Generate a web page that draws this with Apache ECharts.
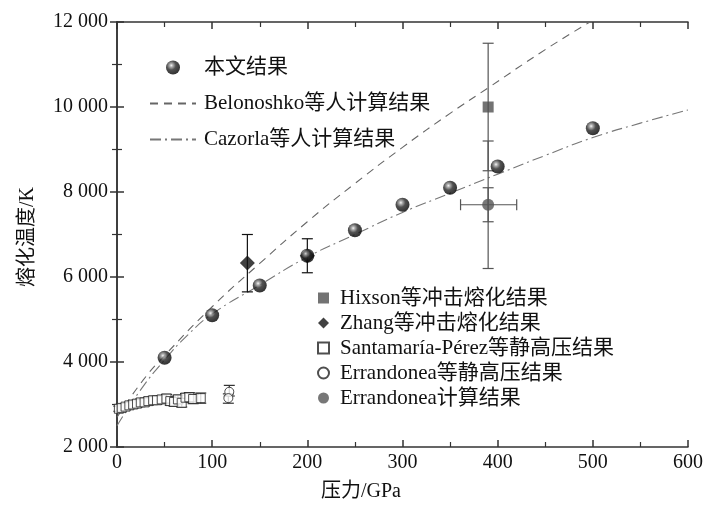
<!DOCTYPE html>
<html>
<head>
<meta charset="utf-8">
<script src="https://cdn.jsdelivr.net/npm/echarts@6/dist/echarts.min.js"></script>
<style>
    html, body { margin: 0; padding: 0; background: #fff; }
    #chart { width: 706px; height: 506px; }
</style>
</head>
<body>
<div id="chart"></div>
<script>
// 本文结果
const mainP = [50, 100, 150, 200, 250, 300, 350, 400, 500];
const mainT = [4100, 5100, 5800, 6500, 7100, 7700, 8100, 8600, 9500];

// Belonoshko (dashed) and Cazorla (dash-dot) curves
const belP = [0, 27, 50, 100, 150, 200, 250, 300, 350, 390, 450, 497];
const belT = [2700, 3560, 4150, 5300, 6320, 7300, 8200, 9050, 9850, 10450, 11350, 12000];
const cazP = [0, 25, 50, 75, 100, 150, 200, 250, 300, 350, 400, 450, 500, 550, 600];
const cazT = [2500, 3350, 4050, 4650, 5130, 5810, 6470, 7000, 7520, 7970, 8420, 8860, 9280, 9620, 9930];

// Hixson (two bars on one point)
const hixP = [390];
const hixT = [10000];
const hixLo = [6200];
const hixHi = [11500];
const hixLo2 = [8500];
const hixHi2 = [9200];

// Zhang
const zhangP = [137, 200];
const zhangT = [6330, 6500];
const zhangLo = [5650, 6100];
const zhangHi = [7000, 6900];

// Santamaría-Pérez
const santP = [2, 5, 9, 13, 17, 21, 25, 29, 33, 38, 42, 47, 52, 56, 60, 64, 68, 72, 76, 80, 88];
const santT = [2900, 2920, 2950, 2980, 3000, 3020, 3050, 3050, 3080, 3100, 3100, 3120, 3140, 3080, 3060, 3120, 3040, 3160, 3170, 3130, 3150];
const santErr = [60, 60, 70, 70, 80, 80, 80, 80, 90, 90, 90, 90, 100, 100, 100, 100, 100, 100, 110, 110, 120];

// Errandonea static
const errStP = [118, 117];
const errStT = [3300, 3150];
const errStLo = [3200, 3030];
const errStHi = [3450, 3250];

// Errandonea calc
const errCalcP = [390];
const errCalcT = [7700];
const errCalcPLo = [361];
const errCalcPHi = [420];
const errCalcTLo = [7300];
const errCalcTHi = [8100];

const xTicks = [0, 100, 200, 300, 400, 500, 600];
const yTicks = [2000, 4000, 6000, 8000, 10000, 12000];

const FONT = "'Liberation Serif', 'Noto Sans CJK SC', serif";

const zip = (a, b) => a.map((v, i) => [v, b[i]]);
const zip3 = (a, b, c) => a.map((v, i) => [v, b[i], c[i]]);

function fmtK(v) {
    if (v < 1000) return String(v);
    const s = String(v);
    return s.slice(0, s.length - 3) + ' ' + s.slice(-3);
}

// vertical error bar: [x, lo, hi]
function errY(params, api) {
    const x = api.value(0);
    const p1 = api.coord([x, api.value(1)]);
    const p2 = api.coord([x, api.value(2)]);
    const c = api.visual('color');
    const w = 5.5;
    const st = { stroke: c, lineWidth: 1.2 };
    return {
        type: 'group',
        children: [
            { type: 'line', shape: { x1: p1[0], y1: p1[1], x2: p2[0], y2: p2[1] }, style: st },
            { type: 'line', shape: { x1: p1[0] - w, y1: p1[1], x2: p1[0] + w, y2: p1[1] }, style: st },
            { type: 'line', shape: { x1: p2[0] - w, y1: p2[1], x2: p2[0] + w, y2: p2[1] }, style: st }
        ]
    };
}

// horizontal error bar: [y, lo, hi]
function errX(params, api) {
    const y = api.value(0);
    const p1 = api.coord([api.value(1), y]);
    const p2 = api.coord([api.value(2), y]);
    const c = api.visual('color');
    const w = 5.5;
    const st = { stroke: c, lineWidth: 1.2 };
    return {
        type: 'group',
        children: [
            { type: 'line', shape: { x1: p1[0], y1: p1[1], x2: p2[0], y2: p2[1] }, style: st },
            { type: 'line', shape: { x1: p1[0], y1: p1[1] - w, x2: p1[0], y2: p1[1] + w }, style: st },
            { type: 'line', shape: { x1: p2[0], y1: p2[1] - w, x2: p2[0], y2: p2[1] + w }, style: st }
        ]
    };
}

const sphere = new echarts.graphic.RadialGradient(0.38, 0.35, 0.65, [
    { offset: 0, color: '#f4f4f4' },
    { offset: 0.18, color: '#9a9a9a' },
    { offset: 0.5, color: '#252525' },
    { offset: 1, color: '#000' }
]);

const axisLineStyle = { color: '#333', width: 1.5 };
const minorStyle = { color: '#333', width: 1.2 };

function valueAxis(pos, min, max, interval, label) {
    return {
        type: 'value', min: min, max: max, interval: interval, position: pos,
        axisLine: { lineStyle: axisLineStyle },
        axisTick: { inside: true, length: 7, lineStyle: axisLineStyle },
        minorTick: { show: true, splitNumber: 2, length: 5, lineStyle: minorStyle },
        axisLabel: label || { show: false },
        splitLine: { show: false }
    };
}

const chart = echarts.init(document.getElementById('chart'));
chart.setOption({
    animation: false,
    backgroundColor: '#fff',
    grid: { left: 117, right: 16, top: 22, bottom: 59 },
    xAxis: [
        valueAxis('bottom', 0, 600, 100, {
            color: '#111', fontFamily: FONT, fontSize: 20, margin: 6, customValues: xTicks
        }),
        valueAxis('top', 0, 600, 100)
    ],
    yAxis: [
        valueAxis('left', 2000, 12000, 2000, {
            color: '#111', fontFamily: FONT, fontSize: 20, margin: 9,
            formatter: fmtK, customValues: yTicks
        }),
        valueAxis('right', 2000, 12000, 2000)
    ],
    graphic: [
        {
            type: 'text', x: 28, y: 237, rotation: Math.PI / 2,
            style: { text: '熔化温度/K', font: '20px ' + FONT, fill: '#111', align: 'center', verticalAlign: 'middle' }
        },
        {
            type: 'text', x: 361, y: 492,
            style: { text: '压力/GPa', font: '20px ' + FONT, fill: '#111', align: 'center', verticalAlign: 'middle' }
        }
    ],
    legend: [
        {
            orient: 'vertical', left: 144, top: 51,
            itemWidth: 46, itemHeight: 14, itemGap: 13,
            textStyle: { fontFamily: FONT, fontSize: 21, color: '#111', lineHeight: 23, padding: [0, 0, 0, 3] },
            data: [
                '本文结果',
                { name: 'Belonoshko等人计算结果', itemStyle: { opacity: 0 } },
                { name: 'Cazorla等人计算结果', itemStyle: { opacity: 0 } }
            ]
        },
        {
            orient: 'vertical', left: 312, top: 282,
            itemWidth: 11, itemHeight: 11, itemGap: 3,
            textStyle: { fontFamily: FONT, fontSize: 21, color: '#111', lineHeight: 22, padding: [0, 0, 0, 6] },
            data: ['Hixson等冲击熔化结果', 'Zhang等冲击熔化结果', 'Santamaría-Pérez等静高压结果', 'Errandonea等静高压结果', 'Errandonea计算结果']
        }
    ],
    series: [
        {
            name: 'Belonoshko等人计算结果', type: 'line', smooth: true, symbol: 'none',
            data: zip(belP, belT), clip: true,
            itemStyle: { color: '#666' },
            lineStyle: { color: '#666', width: 1.1, type: [8, 6] }, z: 1
        },
        {
            name: 'Cazorla等人计算结果', type: 'line', smooth: true, symbol: 'none',
            data: zip(cazP, cazT), clip: true,
            itemStyle: { color: '#777' },
            lineStyle: { color: '#777', width: 1.1, type: [11, 4, 2, 4] }, z: 1
        },
        {
            name: 'hixErr', type: 'custom', renderItem: errY, z: 2,
            itemStyle: { color: '#555' },
            data: zip3(hixP, hixLo, hixHi).concat(zip3(hixP, hixLo2, hixHi2))
        },
        {
            name: 'zhangErr', type: 'custom', renderItem: errY, z: 2,
            itemStyle: { color: '#111' }, data: zip3(zhangP, zhangLo, zhangHi)
        },
        {
            name: 'santErr', type: 'custom', renderItem: errY, z: 2,
            itemStyle: { color: '#333' },
            data: santP.map((p, i) => [p, santT[i] - santErr[i], santT[i] + santErr[i]])
        },
        {
            name: 'errStErr', type: 'custom', renderItem: errY, z: 2,
            itemStyle: { color: '#333' }, data: zip3(errStP, errStLo, errStHi)
        },
        {
            name: 'errCalcErrY', type: 'custom', renderItem: errY, z: 2,
            itemStyle: { color: '#555' }, data: zip3(errCalcP, errCalcTLo, errCalcTHi)
        },
        {
            name: 'errCalcErrX', type: 'custom', renderItem: errX, z: 2,
            itemStyle: { color: '#555' }, data: zip3(errCalcT, errCalcPLo, errCalcPHi)
        },
        {
            name: 'Santamaría-Pérez等静高压结果', type: 'scatter', symbol: 'rect', symbolSize: 9, z: 3,
            itemStyle: { color: '#fff', borderColor: '#222', borderWidth: 1 },
            data: zip(santP, santT)
        },
        {
            name: 'Errandonea等静高压结果', type: 'scatter', symbol: 'circle', symbolSize: 9, z: 3,
            itemStyle: { color: '#fff', borderColor: '#222', borderWidth: 1 },
            data: zip(errStP, errStT)
        },
        {
            name: 'Hixson等冲击熔化结果', type: 'scatter', symbol: 'rect', symbolSize: 11, z: 4,
            itemStyle: { color: '#505050' }, data: zip(hixP, hixT)
        },
        {
            name: 'Errandonea计算结果', type: 'scatter', symbol: 'circle', symbolSize: 12, z: 4,
            itemStyle: { color: '#555' }, data: zip(errCalcP, errCalcT)
        },
        {
            name: 'Zhang等冲击熔化结果', type: 'scatter', symbol: 'diamond', symbolSize: 15, z: 4,
            itemStyle: { color: '#111' }, data: zip(zhangP, zhangT)
        },
        {
            name: '本文结果', type: 'scatter', symbol: 'circle', symbolSize: 14, z: 5,
            itemStyle: { color: sphere }, data: zip(mainP, mainT)
        }
    ]
});
</script>
</body>
</html>
